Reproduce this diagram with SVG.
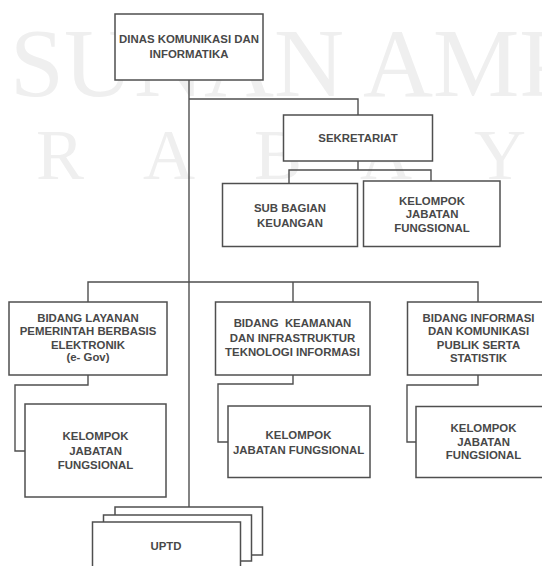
<svg xmlns="http://www.w3.org/2000/svg" width="542" height="566" viewBox="0 0 542 566">
  <style>
    .wm { font-family: "Liberation Serif", "Times New Roman", serif; fill: #efefef; }
    .box { fill: #ffffff; stroke: #4f4f4f; stroke-width: 1.5; }
    .lbl { font-family: "Liberation Sans", Arial, sans-serif; font-size: 11.4px; font-weight: bold; fill: #484848; text-anchor: middle; }
    .wire { fill: none; stroke: #4f4f4f; stroke-width: 1.4; }
  </style>
  <rect width="542" height="566" fill="#ffffff"/>

  <!-- background watermark lettering -->
  <g id="watermark">
    <text class="wm" x="10" y="96" font-size="97">SUNAN AMP</text>
    <text class="wm" x="36" y="179" font-size="72">R</text>
    <text class="wm" x="143" y="179" font-size="72">A</text>
    <text class="wm" x="254" y="179" font-size="72">B</text>
    <text class="wm" x="360" y="179" font-size="72">A</text>
    <text class="wm" x="474" y="179" font-size="72">Y</text>
  </g>

  <!-- connectors -->
  <g id="connectors">
    <path class="wire" d="M189 80 V507"/>
    <path class="wire" d="M189 99 H358 V115"/>
    <path class="wire" d="M358 161 V170 M289 183 V170 H431 V181"/>
    <path class="wire" d="M88 302 V282 H478 V302 M293 282 V302"/>
    <path class="wire" d="M88 375 V385 H15 V451 H25"/>
    <path class="wire" d="M293 375 V384 H218 V442 H228"/>
    <path class="wire" d="M478 375 V385 H407 V442 H416"/>
  </g>

  <g id="dinas">
    <rect class="box" x="115" y="14" width="148" height="66"/>
    <text class="lbl" x="189" y="43">DINAS KOMUNIKASI DAN</text>
    <text class="lbl" x="189" y="58">INFORMATIKA</text>
  </g>

  <g id="sekretariat">
    <rect class="box" x="283.5" y="115" width="149" height="46"/>
    <text class="lbl" x="358" y="142">SEKRETARIAT</text>
  </g>

  <g id="subbag-keuangan">
    <rect class="box" x="222.5" y="183.5" width="135" height="63"/>
    <text class="lbl" x="290" y="212">SUB BAGIAN</text>
    <text class="lbl" x="290" y="226.5">KEUANGAN</text>
  </g>

  <g id="jf-sekretariat">
    <rect class="box" x="363.5" y="181" width="136.5" height="65.5"/>
    <text class="lbl" x="432" y="204.5">KELOMPOK</text>
    <text class="lbl" x="432" y="218">JABATAN</text>
    <text class="lbl" x="432" y="232">FUNGSIONAL</text>
  </g>

  <g id="bidang-egov">
    <rect class="box" x="9" y="302" width="158" height="73"/>
    <text class="lbl" x="88" y="321.5">BIDANG LAYANAN</text>
    <text class="lbl" x="88" y="335">PEMERINTAH BERBASIS</text>
    <text class="lbl" x="88" y="349">ELEKTRONIK</text>
    <text class="lbl" x="88" y="361">(e- Gov)</text>
  </g>

  <g id="jf-egov">
    <rect class="box" x="25" y="404" width="141" height="93"/>
    <text class="lbl" x="95.5" y="440">KELOMPOK</text>
    <text class="lbl" x="95.5" y="455">JABATAN</text>
    <text class="lbl" x="95.5" y="468.5">FUNGSIONAL</text>
  </g>

  <g id="bidang-keamanan">
    <rect class="box" x="215.5" y="302" width="154.5" height="73"/>
    <text class="lbl" x="292.5" y="327" xml:space="preserve">BIDANG  KEAMANAN</text>
    <text class="lbl" x="292.5" y="341.5">DAN INFRASTRUKTUR</text>
    <text class="lbl" x="292.5" y="356">TEKNOLOGI INFORMASI</text>
  </g>

  <g id="jf-keamanan">
    <rect class="box" x="228" y="406" width="142" height="71.5"/>
    <text class="lbl" x="298.5" y="438.5">KELOMPOK</text>
    <text class="lbl" x="298.5" y="453.5">JABATAN FUNGSIONAL</text>
  </g>

  <g id="bidang-informasi">
    <rect class="box" x="407.5" y="302" width="141" height="73"/>
    <text class="lbl" x="478.5" y="321.5">BIDANG INFORMASI</text>
    <text class="lbl" x="478.5" y="335">DAN KOMUNIKASI</text>
    <text class="lbl" x="478.5" y="349">PUBLIK SERTA</text>
    <text class="lbl" x="478.5" y="361.5">STATISTIK</text>
  </g>

  <g id="jf-informasi">
    <rect class="box" x="416" y="406.5" width="135" height="71"/>
    <text class="lbl" x="483.5" y="431.5">KELOMPOK</text>
    <text class="lbl" x="483.5" y="445.5">JABATAN</text>
    <text class="lbl" x="483.5" y="459">FUNGSIONAL</text>
  </g>

  <g id="uptd">
    <rect class="box" x="115" y="507" width="147.5" height="48"/>
    <rect class="box" x="103.5" y="515" width="148" height="46"/>
    <rect class="box" x="92.5" y="522" width="148" height="50"/>
    <text class="lbl" x="166" y="549.5">UPTD</text>
  </g>
</svg>
